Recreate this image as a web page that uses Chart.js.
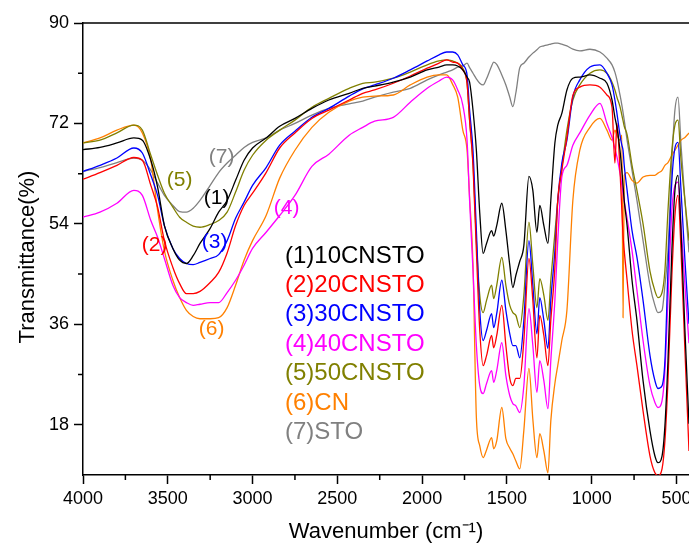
<!DOCTYPE html>
<html>
<head>
<meta charset="utf-8">
<script src="https://cdn.jsdelivr.net/npm/chart.js@4"></script>
<style>
  html, body { margin: 0; padding: 0; background: #fff; overflow: hidden; }
  #wrap { position: relative; width: 689px; height: 546px; }
</style>
</head>
<body>
<div id="wrap"><canvas id="ftir"></canvas></div>
<script>
/* ── data ── */
const wavenumber = [4000,3900,3800,3700,3650,3600,3560,3520,3470,3430,3390,3350,3310,3250,3200,3150,3100,3050,3000,2920,
  2840,2750,2650,2550,2430,2350,2280,2170,2070,1970,
  1900,1855,1820,1790,1760,1735,1720,1700,1680,1660,
  1640,1620,1590,1578,1560,1530,1506,1483,1465,1447,
  1424,1400,1370,1347,1323,1306,1282,1258,1241,1217,
  1200,1176,1146,1111,1070,1010,951,910,880,863,
  851,833,822,815,808,791,762,733,697,656,
  627,609,585,568,550,527,509,491,473,450,426];

const cnsto10 = [67.3,67.7,68.5,69.4,69.0,65.4,60.6,53.7,49.6,47.5,46.9,48.3,50.5,53.2,56.1,58.2,61.8,65.4,67.6,69.4,
  71.5,72.9,74.7,76.2,77.4,78.3,78.7,79.4,80.3,81.6,
  82.1,82.5,82.5,82.3,81.6,80.3,79.4,74.4,67.2,55.9,
  48.7,50.5,52.8,51.8,53.7,57.7,52.8,46.6,42.6,44.8,
  47.3,50.1,62.5,60.0,52.5,57.3,53.7,50.5,58.2,68.5,
  71.7,73.8,78.0,80.1,80.3,80.7,80.1,79.2,76.2,73.1,
  71.3,67.2,63.6,60.9,58.2,53.7,43.9,36.7,25.9,16.9,
  12.4,11.2,12.4,17.8,29.5,49.2,60.0,62.7,52.8,34.9,18.2];

const cnsto20 = [62.0,63.2,64.5,65.9,65.4,60.9,57.0,51.0,46.2,43.3,41.5,41.5,41.9,43.5,45.3,48.8,53.7,57.3,59.5,63.2,
  67.6,70.3,72.9,74.4,76.2,77.4,78.0,79.2,80.5,81.9,
  82.8,83.4,83.0,82.8,81.6,79.2,72.6,64.5,49.2,34.9,
  28.6,30.4,34.0,31.8,34.0,39.4,32.2,26.3,25.0,26.3,
  26.3,33.1,47.8,40.3,30.0,37.6,34.0,28.6,36.7,46.2,
  58.2,63.6,69.5,77.0,78.5,78.9,78.5,77.1,74.9,64.9,
  72.0,63.6,56.4,51.9,49.2,43.9,34.9,28.6,20.5,12.4,
  9.4,8.9,10.1,15.1,25.9,44.8,55.5,59.1,49.2,31.3,13.3];

const cnsto30 = [63.4,64.5,65.8,67.6,66.7,62.7,59.1,53.7,49.6,47.8,46.9,46.7,47.1,47.8,48.5,51.0,55.0,57.9,60.9,64.1,
  68.1,70.6,73.1,74.7,76.9,78.2,78.9,80.1,81.6,83.2,
  84.3,84.8,84.8,84.3,82.5,80.7,74.4,67.2,52.8,38.5,
  33.1,34.9,37.9,35.4,37.9,43.9,38.5,34.3,32.2,32.2,
  30.0,36.7,51.0,43.0,34.3,40.8,36.7,31.7,40.3,49.2,
  58.2,64.9,69.0,76.7,79.8,82.1,82.5,81.0,78.9,76.2,
  73.8,69.9,68.1,67.2,64.5,60.0,52.8,48.0,40.3,30.4,
  25.9,24.5,25.0,29.5,45.7,61.8,67.6,68.6,60.0,47.5,36.1];

const cnsto40 = [55.2,56.1,57.7,60.0,59.1,54.6,51.6,47.8,43.0,40.8,39.9,39.4,39.6,39.9,39.9,41.7,43.9,46.6,49.6,52.5,
  55.5,59.1,64.3,66.5,69.9,71.3,72.4,73.1,75.8,78.3,
  79.6,80.3,79.8,78.0,75.3,69.0,58.2,45.7,32.2,25.0,
  23.6,25.4,27.7,25.6,27.7,32.7,26.8,23.2,21.8,21.4,
  20.2,25.0,38.8,32.2,23.8,29.5,25.9,20.9,29.5,40.3,
  51.0,62.4,64.5,68.1,70.3,73.5,75.6,72.0,69.5,67.5,
  66.0,63.1,61.0,59.5,58.0,55.0,49.2,42.1,33.1,25.0,
  22.0,21.1,22.3,27.7,40.3,56.4,60.9,61.5,53.7,43.0,32.6];

const cnsto50 = [68.5,69.0,70.3,71.7,70.8,66.3,62.7,59.5,57.0,55.2,54.3,53.6,53.4,53.9,54.6,56.1,59.7,63.6,66.3,69.0,
  70.8,72.6,74.9,76.5,78.3,79.2,79.4,80.1,81.2,82.5,
  83.2,83.4,83.2,82.8,81.9,79.2,72.6,64.9,51.0,41.2,
  38.1,40.3,43.0,40.6,43.0,48.0,43.0,39.4,38.1,37.6,
  35.4,41.2,54.3,46.6,39.0,44.2,41.2,36.7,43.9,52.3,
  58.2,64.0,70.8,76.2,78.9,81.0,81.6,81.0,79.4,78.0,
  76.7,75.0,73.5,72.5,71.5,70.0,64.5,60.0,54.0,45.5,
  42.0,40.8,41.7,45.7,56.4,67.2,71.7,72.6,65.4,58.2,51.0];

const cn = [68.5,69.4,70.8,71.7,70.3,65.4,56.4,49.2,43.9,40.8,38.5,37.4,37.0,37.0,37.2,39.0,43.0,47.5,51.0,55.5,
  62.2,67.2,71.3,74.0,76.0,76.7,76.9,77.1,78.9,80.3,
  80.7,80.7,79.0,76.7,70.8,67.2,58.8,46.9,19.3,14.2,
  12.1,13.5,15.7,13.7,15.1,21.1,15.5,13.8,12.8,11.5,
  10.1,17.0,28.1,19.0,12.1,16.4,13.3,9.4,18.7,25.4,
  28.6,33.1,38.5,58.2,67.2,71.3,72.9,70.8,69.0,70.8,
  69.9,69.0,69.9,37.2,62.7,63.2,61.8,61.3,62.4,62.7,
  62.7,63.1,63.6,64.5,65.0,66.3,67.2,68.1,69.0,69.5,70.3];

const sto = [63.4,64.1,65.0,65.8,65.4,63.6,61.3,59.1,57.3,56.2,56.1,56.8,58.2,60.9,63.2,64.9,66.3,67.7,68.6,69.4,
  70.8,72.0,73.5,74.7,75.5,76.0,76.7,77.6,78.3,79.8,
  80.7,81.2,81.6,82.1,82.3,82.8,82.0,81.0,80.0,79.2,
  78.9,80.0,82.3,83.0,82.6,80.7,78.9,76.7,75.0,77.5,
  82.0,82.8,83.9,84.6,85.2,85.7,85.9,86.1,86.2,86.4,
  86.4,86.2,85.9,85.3,85.0,85.3,84.8,83.7,82.5,81.2,
  79.8,77.1,75.3,74.0,72.6,69.0,63.6,58.2,51.0,43.0,
  39.4,38.1,38.5,43.0,49.2,65.4,74.4,76.7,68.1,58.2,48.9];

const seriesNames  = ['(1)10CNSTO','(2)20CNSTO','(3)30CNSTO','(4)40CNSTO','(5)50CNSTO','(6)CN','(7)STO'];
const seriesValues = [cnsto10, cnsto20, cnsto30, cnsto40, cnsto50, cn, sto];
const seriesColors = ['#000000','#FF0000','#0000FF','#FF00FF','#808000','#FF8000','#808080'];

const yTicksMajor = [18, 36, 54, 72, 90];

// curve tags: which series, and where (wavenumber, T)
const tagSeries = [6, 4, 0, 1, 2, 5, 3];
const tagWn     = [3182, 3430, 3212, 3578, 3224, 3241, 2799];
const tagT      = [65.9, 61.8, 58.6, 50.1, 50.7, 35.2, 56.8];

const FONT = '"Liberation Sans", Arial, sans-serif';

/* ── decorations: top frame, minor ticks, y title, tags, legend ── */
const decor = {
  id: 'decor',
  afterDraw(chart) {
    const { ctx, chartArea: a, scales: { x, y } } = chart;
    ctx.save();
    ctx.strokeStyle = '#000';
    ctx.lineWidth = 1.5;
    ctx.beginPath();
    ctx.moveTo(a.left, a.top); ctx.lineTo(a.right + 2, a.top);
    // minor ticks
    x.ticks.forEach(t => {
      if (t.value % 500 === 0) return;
      const px = x.getPixelForValue(t.value);
      ctx.moveTo(px, a.bottom); ctx.lineTo(px, a.bottom + 5);
    });
    y.ticks.forEach(t => {
      if (t.value % 18 === 0 || t.value <= 9) return;
      const py = y.getPixelForValue(t.value);
      ctx.moveTo(a.left, py); ctx.lineTo(a.left - 5, py);
    });
    ctx.stroke();

    // y axis title
    ctx.save();
    ctx.translate(28, 257);
    ctx.rotate(-Math.PI / 2);
    ctx.textAlign = 'center';
    ctx.textBaseline = 'middle';
    ctx.fillStyle = '#000';
    ctx.font = '22px ' + FONT;
    ctx.fillText('Transmittance(%)', 0, 0);
    ctx.restore();

    ctx.textBaseline = 'middle';
    ctx.textAlign = 'center';
    ctx.font = '21px ' + FONT;
    tagSeries.forEach((s, i) => {
      ctx.fillStyle = seriesColors[s];
      ctx.fillText('(' + (s + 1) + ')', x.getPixelForValue(tagWn[i]), y.getPixelForValue(tagT[i]));
    });

    ctx.textAlign = 'left';
    ctx.font = '24px ' + FONT;
    seriesNames.forEach((n, i) => {
      ctx.fillStyle = seriesColors[i];
      ctx.fillText(n, a.left + 202, a.top + 233 + i * 29.4);
    });
    ctx.restore();
  }
};

new Chart(document.getElementById('ftir'), {
  type: 'line',
  data: {
    datasets: seriesValues.map((vals, i) => ({
      label: seriesNames[i],
      data: wavenumber.map((w, j) => ({ x: w, y: vals[j] })),
      borderColor: seriesColors[i],
      borderWidth: 1.3,
      pointRadius: 0,
      cubicInterpolationMode: 'monotone',
      fill: false
    }))
  },
  options: {
    responsive: true,
    maintainAspectRatio: false,
    animation: false,
    layout: { padding: { top: 23, left: 0, right: 0, bottom: 0 } },
    plugins: { legend: { display: false }, tooltip: { enabled: false } },
    scales: {
      x: {
        type: 'linear',
        reverse: true,
        min: 426, max: 4000,
        afterBuildTicks: s => { s.ticks = s.ticks.filter(t => t.value % 250 === 0); },
        afterFit: s => { s.height = 71; s.paddingLeft = 0; s.paddingRight = 0; },
        ticks: {
          stepSize: 250, autoSkip: false, maxRotation: 0, includeBounds: false,
          color: '#000', padding: 4,
          font: { family: FONT, size: 18 },
          callback: v => v % 500 === 0 ? v : ''
        },
        grid: {
          drawOnChartArea: false, tickLength: 9, tickWidth: 1.5,
          tickColor: c => (c.tick && c.tick.value % 500 === 0) ? '#000' : 'rgba(0,0,0,0)'
        },
        border: { color: '#000', width: 1.5 },
        title: {
          display: true, text: 'Wavenumber (cm\u207B\u00B9)', color: '#000',
          font: { family: FONT, size: 22 }, padding: { top: 0, bottom: 1 }
        }
      },
      y: {
        min: 9, max: 90,
        afterFit: s => { s.width = 83; s.paddingTop = 0; s.paddingBottom = 0; },
        ticks: {
          stepSize: 9, color: '#000', padding: 5,
          font: { family: FONT, size: 18 },
          callback: v => yTicksMajor.includes(v) ? v : ''
        },
        grid: {
          drawOnChartArea: false, tickLength: 9, tickWidth: 1.5,
          tickColor: c => (c.tick && yTicksMajor.includes(c.tick.value)) ? '#000' : 'rgba(0,0,0,0)'
        },
        border: { color: '#000', width: 1.5 },
        title: { display: false }
      }
    }
  },
  plugins: [decor]
});
</script>
</body>
</html>
